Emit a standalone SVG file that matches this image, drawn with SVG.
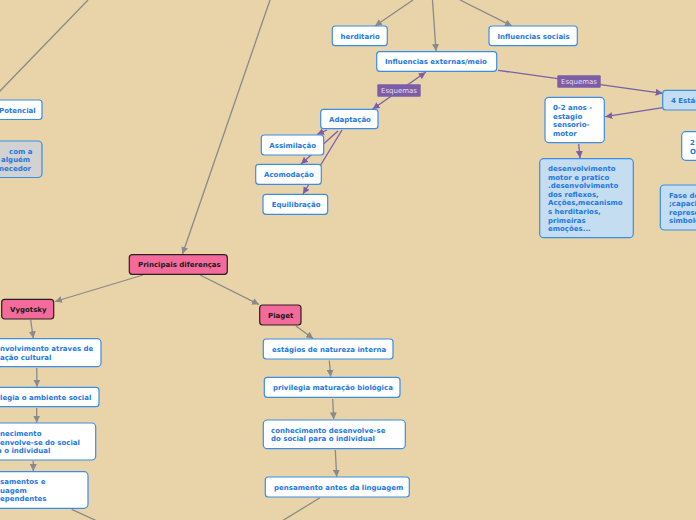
<svg xmlns="http://www.w3.org/2000/svg" width="696" height="520" viewBox="0 0 696 520">
<defs>
<marker id="ag" viewBox="0 0 10 10" refX="10" refY="5" markerWidth="7" markerHeight="7" markerUnits="userSpaceOnUse" orient="auto-start-reverse"><path d="M0,0 L10,5 L0,10 z" fill="#8a8a8a"/></marker>
<marker id="ap" viewBox="0 0 10 10" refX="10" refY="5" markerWidth="7" markerHeight="7" markerUnits="userSpaceOnUse" orient="auto-start-reverse"><path d="M0,0 L10,5 L0,10 z" fill="#7b5ea7"/></marker>
</defs>
<style>
.bg{fill:#e8d4a8}
.n{fill:#ffffff;stroke:#3a8ee6;stroke-width:1.2}
.lb{fill:#c5ddf1;stroke:#3a8ee6;stroke-width:1.2}
.gr{fill:#d2d2d2;stroke:#3a8ee6;stroke-width:1.2}
.pk{fill:#f26b9b;stroke:#2b2020;stroke-width:1.2}
.t{font-family:"DejaVu Sans",Verdana,sans-serif;font-size:7px;font-weight:bold;fill:#1e78dc}
.tk{font-family:"DejaVu Sans",Verdana,sans-serif;font-size:7px;font-weight:bold;fill:#1a1a1a}
.g{stroke:#8a8a8a;stroke-width:1.3;fill:none}
.p{stroke:#7b5ea7;stroke-width:1.3;fill:none}
.es{fill:#7b5ea7}
.et{font-family:"DejaVu Sans",Verdana,sans-serif;font-size:7px;fill:#e6def2}
</style>
<rect class="bg" x="0" y="0" width="696" height="520"/>
<g id="connectors">
<line class="g" x1="88" y1="0" x2="-1" y2="92"/>
<line class="g" x1="270" y1="0" x2="182.5" y2="254" marker-end="url(#ag)"/>
<line class="g" x1="413" y1="0" x2="375" y2="26" marker-end="url(#ag)"/>
<line class="g" x1="432.5" y1="0" x2="436" y2="51" marker-end="url(#ag)"/>
<line class="g" x1="460" y1="0" x2="512" y2="26" marker-end="url(#ag)"/>
<line class="g" x1="143" y1="275" x2="55" y2="301.5" marker-end="url(#ag)"/>
<line class="g" x1="200" y1="275" x2="259" y2="304.5" marker-end="url(#ag)"/>
<line class="g" x1="30.7" y1="320" x2="33.3" y2="338.3" marker-end="url(#ag)"/>
<line class="g" x1="36.7" y1="368" x2="37" y2="386.7" marker-end="url(#ag)"/>
<line class="g" x1="36.7" y1="408" x2="36.7" y2="422.7" marker-end="url(#ag)"/>
<line class="g" x1="33.3" y1="461" x2="33.3" y2="471" marker-end="url(#ag)"/>
<line class="g" x1="71.7" y1="509.3" x2="97" y2="521"/>
<line class="g" x1="296" y1="326" x2="313.3" y2="338.7" marker-end="url(#ag)"/>
<line class="g" x1="329.3" y1="360.5" x2="330.7" y2="376.7" marker-end="url(#ag)"/>
<line class="g" x1="332.7" y1="399" x2="333.7" y2="419.3" marker-end="url(#ag)"/>
<line class="g" x1="335.3" y1="450" x2="336.7" y2="476.7" marker-end="url(#ag)"/>
<line class="g" x1="320" y1="497.7" x2="282" y2="521"/>
<line class="p" x1="372.7" y1="109" x2="425.7" y2="72.3" marker-start="url(#ap)" marker-end="url(#ap)"/>
<line class="p" x1="498" y1="70.3" x2="662.7" y2="93.3" marker-end="url(#ap)"/>
<line class="p" x1="662.7" y1="107.7" x2="605.3" y2="116.7" marker-end="url(#ap)"/>
<line class="p" x1="578.7" y1="144" x2="580" y2="158" marker-end="url(#ap)"/>
<line class="p" x1="327" y1="130" x2="317" y2="134.5" marker-end="url(#ap)"/>
<line class="p" x1="338" y1="131" x2="301" y2="164" marker-end="url(#ap)"/>
<line class="p" x1="342" y1="130" x2="303" y2="194" marker-end="url(#ap)"/>
<rect class="es" x="377.3" y="84.3" width="43.4" height="12.4" rx="1"/>
<text class="et" x="381" y="93">Esquemas</text>
<rect class="es" x="557.3" y="75.3" width="43.4" height="12.4" rx="1"/>
<text class="et" x="561" y="84">Esquemas</text>
</g>
<g id="n-herditario"><rect class="n" x="332.3" y="26" width="55" height="19.7" rx="3"/><text class="t" x="340.5" y="38.5">herditario</text></g>
<g id="n-externas"><rect class="n" x="376.7" y="51.7" width="120" height="19.6" rx="3"/><text class="t" x="385" y="64">Influencias externas/meio</text></g>
<g id="n-sociais"><rect class="n" x="489" y="26" width="88.3" height="19.7" rx="3"/><text class="t" x="497.5" y="38.5">Influencias sociais</text></g>
<g id="n-adaptacao"><rect class="n" x="320.7" y="109.3" width="57.3" height="19.4" rx="3"/><text class="t" x="329" y="121.5">Adaptação</text></g>
<g id="n-assimilacao"><rect class="n" x="261.3" y="135" width="62.4" height="20" rx="3"/><text class="t" x="269.3" y="147.5">Assimilação</text></g>
<g id="n-acomodacao"><rect class="n" x="255.7" y="164.3" width="65.6" height="20" rx="3"/><text class="t" x="264" y="176.8">Acomodação</text></g>
<g id="n-equilibracao"><rect class="n" x="263" y="194.3" width="64.7" height="20" rx="3"/><text class="t" x="271.7" y="206.8">Equilibração</text></g>
<g id="n-estagios"><rect class="lb" x="662.7" y="90.3" width="40" height="19.7" rx="3"/><text class="t" x="671" y="102.7">4 Estágios</text></g>
<g id="n-02anos"><rect class="n" x="545" y="97.3" width="59.3" height="45.4" rx="4"/><text class="t" x="553" y="110">0-2 anos -</text><text class="t" x="553" y="119">estagio</text><text class="t" x="553" y="127">sensorio-</text><text class="t" x="553" y="136">motor</text></g>
<g id="n-desenv"><rect class="lb" x="539.7" y="158.7" width="93.6" height="79" rx="4"/><text class="t" x="548" y="171">desenvolvimento</text><text class="t" x="548" y="180">motor e pratico</text><text class="t" x="548" y="188">.desenvolvimento</text><text class="t" x="548" y="196.5">dos reflexos,</text><text class="t" x="548" y="205">Acções,mecanismo</text><text class="t" x="548" y="214">s herditarios,</text><text class="t" x="548" y="222.5">primeiras</text><text class="t" x="548" y="231">emoções...</text></g>
<g id="n-2o"><rect class="n" x="681.7" y="131.7" width="20" height="28.6" rx="4"/><text class="t" x="690" y="144.5">2</text><text class="t" x="690" y="153.5">O</text></g>
<g id="n-fase"><rect class="lb" x="660.3" y="185" width="42" height="45" rx="4"/><text class="t" x="669" y="197.5">Fase de</text><text class="t" x="669" y="206">;capacid</text><text class="t" x="669" y="214.5">represen</text><text class="t" x="669" y="223">simbolo</text></g>
<g id="n-potencial"><rect class="n" x="-10" y="100" width="52" height="19.5" rx="3"/><text class="t" x="-1" y="112.5">Potencial</text></g>
<g id="n-cinza"><rect class="gr" x="-10" y="141" width="52" height="36.5" rx="4"/><text class="t" x="9" y="153.5">com a</text><text class="t" x="1" y="162">alguém</text><text class="t" x="-1" y="170.5">necedor</text></g>
<g id="n-principais"><rect class="pk" x="129.3" y="254.7" width="98" height="19.6" rx="3"/><text class="tk" x="138" y="267">Principais diferenças</text></g>
<g id="n-vygotsky"><rect class="pk" x="1.7" y="299.3" width="52" height="19.7" rx="3"/><text class="tk" x="10" y="311.7">Vygotsky</text></g>
<g id="n-piaget"><rect class="pk" x="259.7" y="305" width="41.3" height="20" rx="3"/><text class="tk" x="268" y="317.5">Piaget</text></g>
<g id="n-v1"><rect class="n" x="-10" y="338.7" width="111" height="28" rx="4"/><text class="t" x="0" y="351">nvolvimento atraves de</text><text class="t" x="0" y="360">ação cultural</text></g>
<g id="n-v2"><rect class="n" x="-10" y="387.3" width="109" height="19.4" rx="3"/><text class="t" x="0" y="400">legia o ambiente social</text></g>
<g id="n-v3"><rect class="n" x="-10" y="423" width="105.7" height="37" rx="4"/><text class="t" x="0" y="436">necimento</text><text class="t" x="0" y="444.5">envolve-se do social</text><text class="t" x="-3" y="453">a o individual</text></g>
<g id="n-v4"><rect class="n" x="-10" y="471.7" width="98" height="36.6" rx="4"/><text class="t" x="0" y="484">samentos e</text><text class="t" x="0" y="492.5">uagem</text><text class="t" x="0" y="501">ependentes</text></g>
<g id="n-p1"><rect class="n" x="263.3" y="339" width="129.7" height="20" rx="3"/><text class="t" x="272" y="351.5">estágios de natureza interna</text></g>
<g id="n-p2"><rect class="n" x="264.3" y="377.3" width="135.7" height="20" rx="3"/><text class="t" x="273" y="389.8">privilegia maturação biológica</text></g>
<g id="n-p3"><rect class="n" x="263.3" y="420" width="142" height="28.7" rx="4"/><text class="t" x="271" y="432.8">conhecimento desenvolve-se</text><text class="t" x="271" y="441.2">do social para o individual</text></g>
<g id="n-p4"><rect class="n" x="265.3" y="477" width="144" height="20" rx="3"/><text class="t" x="274" y="489.5">pensamento antes da linguagem</text></g>
</svg>
